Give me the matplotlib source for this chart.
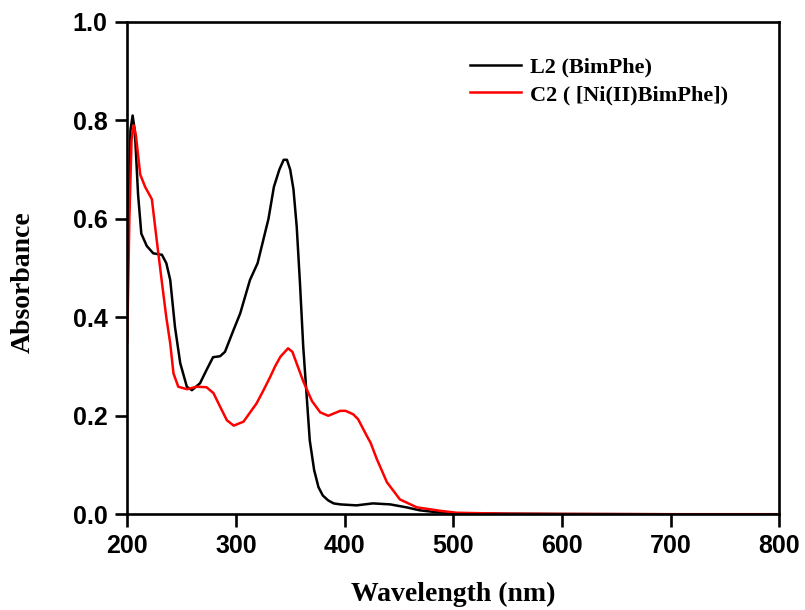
import matplotlib.pyplot as plt

# wavelength (nm) / absorbance
l2_nm = [200, 203, 205, 207, 210, 213, 218, 224, 232, 236, 239.6, 244, 248.8,
         254.9, 259.5, 267, 273, 279, 285.5, 290, 297.8, 304, 313, 320, 330,
         335, 340, 344, 347, 350, 353, 356, 359, 362, 365, 368, 372, 376, 380,
         385, 390, 396, 411, 426, 442, 457, 469, 485, 500, 550, 600, 700, 800]
l2_abs = [0.45, 0.78, 0.81, 0.78, 0.65, 0.57, 0.545, 0.53, 0.527, 0.51, 0.476,
          0.38, 0.307, 0.259, 0.252, 0.266, 0.293, 0.319, 0.321, 0.33, 0.374,
          0.408, 0.476, 0.51, 0.60, 0.665, 0.70, 0.72, 0.72, 0.70, 0.66, 0.584,
          0.469, 0.34, 0.245, 0.15, 0.09, 0.055, 0.038, 0.028, 0.022, 0.02,
          0.018, 0.022, 0.02, 0.014, 0.008, 0.004, 0.002, 0.001, 0.0005, 0.0, 0.0]

c2_nm = [200, 202, 204, 206, 208, 212, 216.5, 222.7, 227, 232, 236, 239.6,
         242.6, 247, 255, 264, 273, 279.4, 285.6, 291.7, 298, 307, 319, 325,
         331.6, 336, 341, 348, 352, 357, 362, 370, 377.6, 385, 396, 401, 408,
         412.5, 420.5, 424, 429.7, 439, 451, 466.5, 488, 503, 550, 600, 700, 800]
c2_abs = [0.35, 0.60, 0.76, 0.79, 0.77, 0.69, 0.665, 0.64, 0.56, 0.47, 0.40,
          0.347, 0.286, 0.259, 0.254, 0.259, 0.258, 0.246, 0.218, 0.191, 0.18,
          0.188, 0.225, 0.25, 0.279, 0.30, 0.32, 0.337, 0.33, 0.30, 0.27, 0.23,
          0.207, 0.20, 0.21, 0.21, 0.203, 0.193, 0.159, 0.145, 0.112, 0.065,
          0.03, 0.014, 0.007, 0.003, 0.001, 0.0005, 0.0, 0.0]

serif = 'Liberation Serif'
sans = 'Liberation Sans'

fig = plt.figure(figsize=(8.05, 6.1), dpi=100)
ax = fig.add_axes([0.158, 0.157, 0.810, 0.807])

ax.plot(l2_nm, l2_abs, color='black', lw=1.8, label='L2 (BimPhe)')
ax.plot(c2_nm, c2_abs, color='red', lw=1.8, label='C2 ( [Ni(II)BimPhe])')

ax.set_xlim(200, 800)
ax.set_ylim(0, 1.0)
ax.set_xticks(range(200, 801, 100))
ax.set_yticks([0.0, 0.2, 0.4, 0.6, 0.8, 1.0])
ax.set_yticklabels(['0.0', '0.2', '0.4', '0.6', '0.8', '1.0'])

for s in ax.spines.values():
    s.set_linewidth(1.9)
ax.tick_params(axis='x', direction='out', length=9, width=1.9, pad=5)
ax.tick_params(axis='y', direction='out', length=9, width=1.9, pad=5)
for lab in ax.get_xticklabels() + ax.get_yticklabels():
    lab.set_fontfamily(sans)
    lab.set_fontweight('bold')
    lab.set_fontsize(18)

ax.set_xlabel('Wavelength (nm)', fontfamily=serif, fontweight='bold', fontsize=20)
ax.set_ylabel('Absorbance', fontfamily=serif, fontweight='bold', fontsize=20)
ax.xaxis.set_label_coords(0.5, -0.138)
ax.yaxis.set_label_coords(-0.14, 0.471)

ax.legend(loc='upper left', bbox_to_anchor=(0.525, 0.928), frameon=False,
          borderpad=0, borderaxespad=0, handlelength=2.3, handletextpad=0.4,
          labelspacing=0.3, prop={'family': serif, 'weight': 'bold', 'size': 16})

fig.savefig('out.png', dpi=100)
